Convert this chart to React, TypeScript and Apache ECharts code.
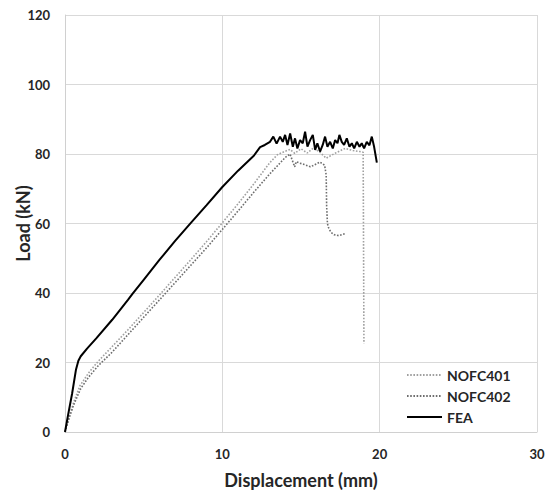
import React, { useEffect, useRef } from "react";
import * as echarts from "echarts";

const xTicks = [0, 10, 20, 30];
const yTicks = [0, 20, 40, 60, 80, 100, 120];

const seriesNames = ["NOFC401", "NOFC402", "FEA"];

const nofc401: [number, number][] = [
  [0, 0], [0.3, 5], [0.55, 8.5], [0.95, 13.3], [1.5, 17.0], [2.1, 20.3],
  [3, 24.6], [4, 29.4], [5, 34.4], [6, 39.4], [7, 44.5], [8, 49.6],
  [9, 54.8], [10, 60.2], [11, 65.7], [12, 71.4], [13, 77.4], [13.5, 79.8],
  [14.0, 80.8], [14.3, 81.3], [14.6, 80.2], [15.0, 81.5], [15.4, 80.3],
  [15.8, 81.8], [16.2, 80.5], [16.6, 78.8], [17.2, 80.3], [17.8, 81.6],
  [18.3, 81.0], [18.75, 80.7], [18.95, 80.5], [18.97, 60], [19.0, 25.5],
];

const nofc402: [number, number][] = [
  [0, 0], [0.3, 4.5], [0.55, 7.8], [1.0, 12.5], [1.5, 15.8], [2.1, 19.0],
  [3, 23.0], [4, 28.0], [5, 33.0], [6, 38.0], [7, 43.0], [8, 48.0],
  [9, 53.0], [10, 58.3], [11, 63.6], [12, 69.0], [13, 74.2], [14, 79.0],
  [14.3, 80.0], [14.6, 76.3], [14.7, 77.8], [14.9, 77.4], [15.2, 77.0],
  [15.6, 76.3], [16.0, 77.2], [16.2, 77.7], [16.5, 76.8], [16.6, 74.0],
  [16.63, 65.0], [16.68, 60.0], [16.75, 58.8], [16.9, 57.5], [17.1, 56.8],
  [17.4, 56.5], [17.6, 56.8], [17.8, 57.1],
];

const fea: [number, number][] = [
  [0, 0], [0.2, 5], [0.45, 11], [0.7, 18], [0.85, 20.5], [1.0, 21.8],
  [1.4, 24], [2, 27], [3, 32.3], [4, 38], [4.3, 39.8], [5, 43.8],
  [6, 49.5], [7, 55], [8, 60.2], [9, 65.3], [10, 70.5], [11, 75.2],
  [12, 79.5], [12.4, 82], [12.7, 82.6], [13.03, 83.5], [13.24, 85.0],
  [13.45, 83.0], [13.67, 85.0], [13.84, 83.5], [13.99, 85.5], [14.14, 82.6],
  [14.31, 85.9], [14.48, 82.1], [14.62, 84.5], [14.77, 81.6], [14.94, 84.0],
  [15.11, 83.1], [15.26, 86.4], [15.41, 82.1], [15.58, 84.0], [15.75, 85.5],
  [15.9, 81.2], [16.04, 83.1], [16.21, 80.7], [16.38, 82.6], [16.53, 85.0],
  [16.68, 82.1], [16.85, 83.5], [17.02, 81.6], [17.17, 84.0], [17.32, 83.1],
  [17.44, 85.5], [17.59, 83.5], [17.74, 82.6], [17.91, 84.5], [18.08, 82.1],
  [18.23, 83.1], [18.38, 81.6], [18.55, 83.5], [18.72, 82.1], [18.86, 83.1],
  [19.01, 81.6], [19.18, 83.5], [19.35, 82.5], [19.5, 85.0], [19.65, 82.0],
  [19.82, 77.5],
];

const FONT = "Lato";

export default function App() {
  const ref = useRef<HTMLDivElement>(null);
  useEffect(() => {
    document.body.style.margin = "0";
    const chart = echarts.init(ref.current!, null, { renderer: "svg" });
    const labelStyle = {
      fontFamily: FONT,
      fontWeight: "bold" as const,
      fontSize: 13,
      color: "#262626",
    };
    chart.setOption({
      animation: false,
      backgroundColor: "#ffffff",
      grid: {
        left: 65,
        right: 13,
        top: 15,
        bottom: 61,
        containLabel: false,
        outerBoundsMode: "none",
      },
      legend: {
        orient: "vertical",
        left: 401,
        top: 363,
        itemWidth: 35,
        itemHeight: 12,
        itemGap: 7,
        data: seriesNames,
        itemStyle: { opacity: 0, color: "transparent", borderColor: "transparent", borderWidth: 0 },
        textStyle: { fontFamily: FONT, fontWeight: "bold", fontSize: 14, color: "#262626" },
      },
      xAxis: {
        type: "value",
        min: xTicks[0],
        max: xTicks[xTicks.length - 1],
        interval: 10,
        name: "Displacement (mm)",
        nameLocation: "middle",
        nameGap: 39,
        nameMoveOverlap: false,
        nameTextStyle: { fontFamily: FONT, fontWeight: "bold", fontSize: 18, color: "#262626" },
        axisLine: { show: true, lineStyle: { color: "#d0d0d0", width: 1 } },
        axisTick: { show: false },
        splitLine: { show: true, lineStyle: { color: "#d9d9d9", width: 1 } },
        axisLabel: { ...labelStyle, margin: 15 },
      },
      yAxis: {
        type: "value",
        min: yTicks[0],
        max: yTicks[yTicks.length - 1],
        interval: 20,
        name: "Load (kN)",
        nameLocation: "middle",
        nameGap: 33,
        nameMoveOverlap: false,
        nameTextStyle: { fontFamily: FONT, fontWeight: "bold", fontSize: 18, color: "#262626" },
        axisLine: { show: true, lineStyle: { color: "#d0d0d0", width: 1 } },
        axisTick: { show: false },
        splitLine: { show: true, lineStyle: { color: "#d9d9d9", width: 1 } },
        axisLabel: { ...labelStyle, margin: 15 },
      },
      series: [
        {
          name: seriesNames[0],
          type: "line",
          data: nofc401,
          showSymbol: false,
          symbol: "none",
          lineStyle: { color: "#a0a0a0", width: 1.6, type: [1.6, 1.6] },
          itemStyle: { color: "#a0a0a0" },
          z: 2,
        },
        {
          name: seriesNames[1],
          type: "line",
          data: nofc402,
          showSymbol: false,
          symbol: "none",
          lineStyle: { color: "#6e6e6e", width: 1.6, type: [1.6, 1.6] },
          itemStyle: { color: "#6e6e6e" },
          z: 3,
        },
        {
          name: seriesNames[2],
          type: "line",
          data: fea,
          showSymbol: false,
          symbol: "none",
          lineStyle: { color: "#000000", width: 2 },
          itemStyle: { color: "#000000" },
          z: 4,
        },
      ],
    });
    return () => chart.dispose();
  }, []);
  return <div ref={ref} style={{ width: 550, height: 493 }} />;
}
